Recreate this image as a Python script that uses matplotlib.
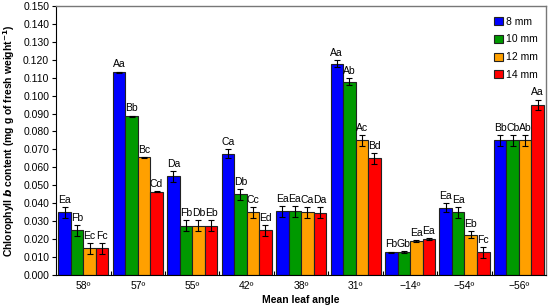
import matplotlib
matplotlib.use("Agg")
import matplotlib.pyplot as plt
import numpy as np

plt.rcParams['font.family'] = ['Liberation Sans', 'DejaVu Sans']

angles = ["58º", "57º", "55º", "42º", "38º", "31º", "\u221214º", "\u221254º", "\u221256º"]
series_names = ["8 mm", "10 mm", "12 mm", "14 mm"]
colors = ["#0000FF", "#009900", "#FFA000", "#FF0000"]

v8 = [0.035, 0.113, 0.055, 0.0675, 0.0355, 0.1177, 0.0127, 0.0375, 0.075]
v10 = [0.025, 0.0885, 0.0275, 0.045, 0.0355, 0.1077, 0.0128, 0.035, 0.075]
v12 = [0.015, 0.0655, 0.0275, 0.035, 0.035, 0.075, 0.019, 0.0225, 0.075]
v14 = [0.015, 0.0465, 0.0275, 0.025, 0.0348, 0.065, 0.020, 0.0127, 0.0948]

e8 = [0.003, 0.0004, 0.003, 0.0025, 0.003, 0.002, 0.0004, 0.0025, 0.003]
e10 = [0.003, 0.0004, 0.003, 0.003, 0.003, 0.002, 0.0004, 0.003, 0.003]
e12 = [0.003, 0.0004, 0.003, 0.003, 0.003, 0.003, 0.0004, 0.002, 0.003]
e14 = [0.003, 0.0004, 0.003, 0.003, 0.003, 0.003, 0.0004, 0.003, 0.003]

l8 = ["Ea", "Aa", "Da", "Ca", "Ea", "Aa", "Fb", "Ea", "Bb"]
l10 = ["Fb", "Bb", "Fb", "Db", "Ea", "Ab", "Gb", "Ea", "Cb"]
l12 = ["Ec", "Bc", "Db", "Cc", "Ca", "Ac", "Ea", "Eb", "Ab"]
l14 = ["Fc", "Cd", "Eb", "Ed", "Da", "Bd", "Ea", "Fc", "Aa"]

values = [v8, v10, v12, v14]
errors = [e8, e10, e12, e14]
labels = [l8, l10, l12, l14]

fig = plt.figure(figsize=(5.5, 3.08), dpi=100)
ax = fig.add_axes([0.102, 0.107, 0.891, 0.874])

x = np.arange(len(angles))
w = 0.23
for k in range(4):
    pos = x + (k - 1.5) * w
    ax.bar(pos, values[k], width=w, color=colors[k], edgecolor="#222222",
           linewidth=0.8, label=series_names[k], zorder=2)
    ax.errorbar(pos, values[k], yerr=errors[k], fmt='none', ecolor='black',
                elinewidth=0.8, capsize=2, capthick=0.8, zorder=3)
    for p, v, e, t in zip(pos, values[k], errors[k], labels[k]):
        ax.text(p, v + e + 0.0012, t, ha='center', va='bottom', fontsize=7.5, zorder=4)

ax.set_xlim(-0.5, len(angles) - 0.5)
ax.set_ylim(0, 0.150)
ax.set_yticks(np.arange(0, 0.1501, 0.010))
ax.set_yticklabels([f"{t:.3f}" for t in np.arange(0, 0.1501, 0.010)], fontsize=7.5)
ax.tick_params(axis='y', direction='out', length=3, width=0.8, pad=2)
ax.set_xticks(x)
ax.set_xticklabels(angles, fontsize=7.5)
ax.tick_params(axis='x', which='major', length=0, pad=4)
ax.set_xticks(np.arange(0.5, len(angles) - 0.5, 1.0), minor=True)
ax.tick_params(axis='x', which='minor', direction='in', length=3, width=0.8)

for s in ['left', 'bottom']:
    ax.spines[s].set_color('black')
    ax.spines[s].set_linewidth(0.8)
for s in ['top', 'right']:
    ax.spines[s].set_color('#777777')
    ax.spines[s].set_linewidth(1.0)

ax.set_xlabel("Mean leaf angle", fontsize=7.5, fontweight='bold', labelpad=3)
ax.set_ylabel(r"Chlorophyll $\boldsymbol{b}$ content (mg g of fresh weight$^{\mathbf{-1}}$)",
              fontsize=7.5, fontweight='bold', labelpad=4)

leg = ax.legend(loc='upper right', bbox_to_anchor=(1.002, 0.995), frameon=False,
                fontsize=7.5, handlelength=0.8, handleheight=0.8, handletextpad=0.3,
                labelspacing=0.75)
for h in leg.legend_handles:
    h.set_edgecolor('#222222')
    h.set_linewidth(0.8)

fig.savefig("out.png", dpi=100)
